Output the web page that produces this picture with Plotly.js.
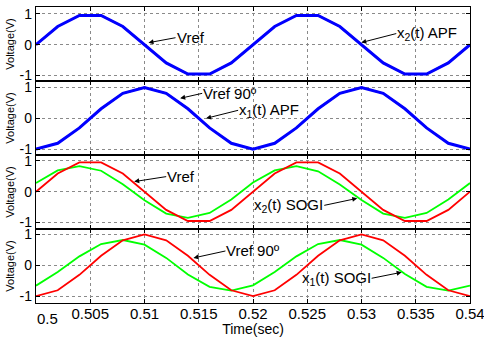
<!DOCTYPE html>
<html>
<head>
<meta charset="utf-8">
<script src="https://cdn.plot.ly/plotly-3.0.1.min.js"></script>
<style>html,body{margin:0;padding:0;background:#fff;}#chart{width:484px;height:337px;}</style>
</head>
<body>
<div id="chart"></div>
<script>
// Time samples (sec)
const time = [0.5, 0.502, 0.504, 0.506, 0.508, 0.51, 0.512, 0.514, 0.516, 0.518, 0.52,
              0.522, 0.524, 0.526, 0.528, 0.53, 0.532, 0.534, 0.536, 0.538, 0.54];
// Panel 1: Vref and x2(t) APF
const vref = [0, 0.59, 0.95, 0.95, 0.59, 0, -0.59, -0.95, -0.95, -0.59, 0,
              0.59, 0.95, 0.95, 0.59, 0, -0.59, -0.95, -0.95, -0.59, 0];
const x2Apf = [0, 0.59, 0.95, 0.95, 0.59, 0.01, -0.59, -0.95, -0.95, -0.59, 0,
               0.59, 0.95, 0.95, 0.59, 0.01, -0.59, -0.95, -0.95, -0.59, 0];
// Panel 2: Vref 90º and x1(t) APF
const vref90 = [-1, -0.81, -0.31, 0.31, 0.81, 1, 0.81, 0.31, -0.31, -0.81, -1,
                -0.81, -0.31, 0.31, 0.81, 1, 0.81, 0.31, -0.31, -0.81, -1];
const x1Apf = [-1, -0.81, -0.31, 0.31, 0.81, 1, 0.81, 0.31, -0.31, -0.81, -1,
               -0.81, -0.31, 0.31, 0.81, 1, 0.81, 0.31, -0.31, -0.81, -1];
// Panel 3: x2(t) SOGI
const x2Sogi = [0.28, 0.69, 0.83, 0.68, 0.24, -0.28, -0.71, -0.85, -0.69, -0.25, 0.3,
                0.69, 0.83, 0.66, 0.23, -0.27, -0.71, -0.85, -0.69, -0.25, 0.28];
// Panel 4: x1(t) SOGI
const x1Sogi = [-0.66, -0.22, 0.29, 0.69, 0.82, 0.67, 0.24, -0.3, -0.7, -0.82, -0.65,
                -0.22, 0.29, 0.69, 0.82, 0.67, 0.24, -0.28, -0.7, -0.82, -0.66];

const xTickVals = [0.5, 0.505, 0.51, 0.515, 0.52, 0.525, 0.53, 0.535, 0.54];
const xTickText = ['', '0.505', '0.51', '0.515', '0.52', '0.525', '0.53', '0.535', '0.54'];
const yTickVals = [-1, 0, 1];
const yTickText = ['-1', '0', '1'];
const yRanges = [[-1.177, 1.223], [-1.19, 1.21], [-1.21, 1.19], [-1.223, 1.177]];

const RED = '#ff0000', BLUE = '#0000ff', GREEN = '#00ff00';

function tr(y, color, width, k, name) {
  return {x: time, y: y, type: 'scatter', mode: 'lines', name: name,
          line: {color: color, width: width}, xaxis: 'x' + (k === 1 ? '' : k), yaxis: 'y' + (k === 1 ? '' : k),
          hoverinfo: 'skip'};
}

const data = [
  tr(vref, RED, 1.8, 1, 'Vref'),
  tr(x2Apf, BLUE, 3, 1, 'x2(t) APF'),
  tr(vref90, RED, 1.8, 2, 'Vref 90º'),
  tr(x1Apf, BLUE, 3, 2, 'x1(t) APF'),
  tr(x2Sogi, GREEN, 1.8, 3, 'x2(t) SOGI'),
  tr(vref, RED, 1.8, 3, 'Vref'),
  tr(x1Sogi, GREEN, 1.8, 4, 'x1(t) SOGI'),
  tr(vref90, RED, 1.8, 4, 'Vref 90º')
];

const axCommon = {
  showline: true, linecolor: '#000', linewidth: 1.2, mirror: 'ticks',
  ticks: 'inside', ticklen: 4, tickwidth: 1, tickcolor: '#000',
  showgrid: true, gridcolor: '#8a8a8a', gridwidth: 1, griddash: 'dot',
  zeroline: false, fixedrange: true
};

const layout = {
  width: 484, height: 337,
  margin: {l: 36, r: 14, t: 7, b: 34, pad: 0},
  paper_bgcolor: '#fff', plot_bgcolor: '#fff',
  showlegend: false,
  font: {family: 'Liberation Sans, Arial, sans-serif', size: 15, color: '#000'},
  annotations: []
};

for (let k = 1; k <= 4; k++) {
  const sfx = k === 1 ? '' : String(k);
  const top = 1 - (k - 1) * 0.25, bot = 1 - k * 0.25;
  layout['xaxis' + sfx] = Object.assign({}, axCommon, {
    domain: [0, 1], anchor: 'y' + sfx, range: [0.5, 0.54],
    tickmode: 'array', tickvals: xTickVals, ticktext: xTickText,
    showticklabels: k === 4, ticklabeloverflow: 'allow',
    tickfont: {size: 15}
  });
  if (k === 4) {
    layout['xaxis4'].title = {text: 'Time(sec)', font: {size: 14}, standoff: 2};
    layout['xaxis4'].ticklabelstandoff = -3;
  }
  layout['yaxis' + sfx] = Object.assign({}, axCommon, {
    domain: [bot, top], anchor: 'x' + sfx, range: yRanges[k - 1],
    tickmode: 'array', tickvals: yTickVals, ticktext: yTickText,
    tickfont: {size: 14},
    title: {text: 'Voltage(V)', font: {size: 11}, standoff: 2}
  });
}

function note(k, x, y, ax, ay, text, anchor) {
  const sfx = k === 1 ? '' : String(k);
  return {xref: 'x' + sfx, yref: 'y' + sfx, x: x, y: y, ax: ax, ay: ay, text: text,
          showarrow: true, arrowhead: 2, arrowsize: 1, arrowwidth: 1, arrowcolor: '#000',
          xanchor: anchor, yanchor: 'middle', font: {size: 15, color: '#000'}, borderpad: 0};
}

layout.annotations = [
  note(1, 0.51037, 0.065, 27, -5, 'Vref', 'left'),
  note(1, 0.52998, 0.07, 35, -9, 'x<sub>2</sub>(t) APF', 'left'),
  note(2, 0.51329, 0.648, 22, -5, 'Vref 90º', 'left'),
  note(2, 0.51568, 0.0, 32, -8, 'x<sub>1</sub>(t) APF', 'left'),
  note(3, 0.50905, 0.327, 32, -5, 'Vref', 'left'),
  note(3, 0.52961, -0.216, -33, 7, 'x<sub>2</sub>(t) SOGI', 'right'),
  note(4, 0.51451, 0.237, 32, -7, 'Vref 90º', 'left'),
  note(4, 0.5337, -0.227, -30, 6, 'x<sub>1</sub>(t) SOGI', 'right'),
  {xref: 'x4', yref: 'paper', x: 0.5, y: 0, xshift: 11, yshift: -5, text: '0.5',
   showarrow: false, xanchor: 'center', yanchor: 'top', font: {size: 15, color: '#000'}}
];

Plotly.newPlot('chart', data, layout, {staticPlot: true, displayModeBar: false});
</script>
</body>
</html>
